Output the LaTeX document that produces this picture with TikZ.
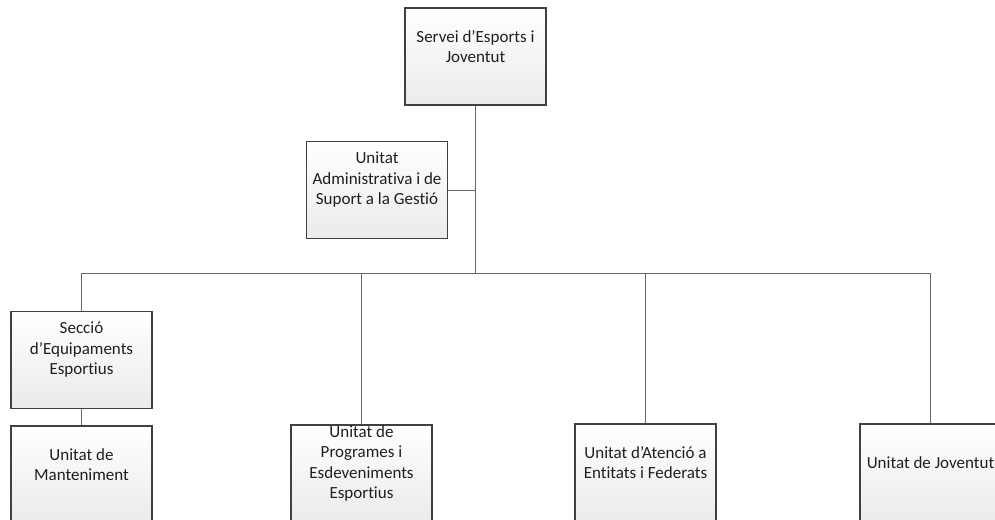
\documentclass[tikz,border=0pt]{standalone}
\usepackage{fontspec}
\setmainfont[Ligatures=NoCommon]{Carlito}
\begin{document}
\begin{tikzpicture}[x=1pt,y=-1pt,
  orgbox/.style={draw=black!75, line width=1.1pt, rectangle, minimum width=141pt, minimum height=97pt,
    inner sep=0pt, top color=white, bottom color=black!8},
  orgtext/.style={align=center, font=\fontsize{17}{20.5}\selectfont, text=black!88, inner sep=0pt},
  link/.style={draw=black!60, line width=1pt}]
\useasboundingbox (0,0) rectangle (995,519);
\begin{scope}
\clip (0,0) rectangle (995,519);
\node[orgbox] (top) at (475.5,56.5) {};
\node[orgbox] (admin) at (377,190) {};
\node[orgbox] (sec) at (81.5,360) {};
\node[orgbox] (mant) at (81.5,474.5) {};
\node[orgbox] (prog) at (361.5,473.5) {};
\node[orgbox] (aten) at (645.5,472.5) {};
\node[orgbox] (jov) at (930.5,472.5) {};
\coordinate (bus) at (475.5,273);

\draw[link] (top.south) -- (bus);
\draw[link] (admin.east) -- (admin.east -| top.south);
\draw[link] (sec.north) |- (bus);
\draw[link] (jov.north) |- (bus);
\draw[link] (prog.north) -- (prog.north |- bus);
\draw[link] (aten.north) -- (aten.north |- bus);
\draw[link] (sec.south) -- (mant.north);

\node[orgtext] (ttop) at ([yshift=10pt]top.center) {Servei d’Esports i\\Joventut};
\node[orgtext] (tadmin) at ([yshift=10pt]admin.center) {Unitat\\Administrativa i de\\Suport a la Gestió};
\node[orgtext] (tsec) at ([yshift=10pt]sec.center) {Secció\\d’Equipaments\\Esportius};
\node[orgtext] (tmant) at ([yshift=10pt]mant.center) {Unitat de\\Manteniment};
\node[orgtext] (tprog) at ([yshift=10pt]prog.center) {Unitat de\\Programes i\\Esdeveniments\\Esportius};
\node[orgtext] (taten) at ([yshift=10pt]aten.center) {Unitat d’Atenció a\\Entitats i Federats};
\node[orgtext] (tjov) at ([yshift=10pt]jov.center) {Unitat de Joventut};
\end{scope}
\end{tikzpicture}
\end{document}
